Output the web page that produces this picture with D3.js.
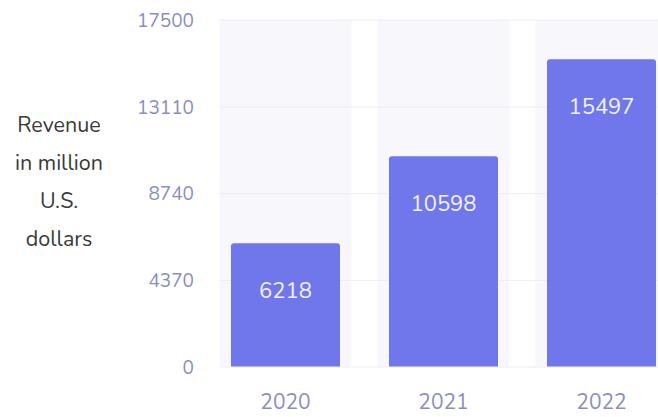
<!DOCTYPE html>
<html>
<head>
<meta charset="utf-8">
<script src="https://cdn.jsdelivr.net/npm/d3@7"></script>
<style>
  html, body { margin: 0; padding: 0; background: #ffffff; }
  svg { display: block; font-family: "Nunito", "Open Sans", "Noto Sans", sans-serif; }
</style>
</head>
<body>
<svg id="chart" width="658" height="417"></svg>
<script>
// Revenue by year
const years = ["2020", "2021", "2022"];
const revenue = [6218, 10598, 15497];
const tickValues = [0, 4370, 8740, 13110, 17500];
const tickLabels = ["0", "4370", "8740", "13110", "17500"];
const axisTitle = ["Revenue", "in million", "U.S.", "dollars"];

const svg = d3.select("#chart");

const x = d3.scaleBand()
  .domain(years)
  .range([206.5, 680.5])
  .paddingInner(0)
  .paddingOuter(0);

const y = d3.scaleLinear()
  .domain([0, 17500])
  .range([366.5, 19.5]);

const step = x.step();
const bgWidth = step * 0.835;
const barWidth = step * 0.69;
const center = d => x(d) + x.bandwidth() / 2;

// background columns
svg.append("g")
  .selectAll("rect")
  .data(years)
  .join("rect")
  .attr("x", d => center(d) - bgWidth / 2)
  .attr("y", y(17500))
  .attr("width", bgWidth)
  .attr("height", y(0) - y(17500))
  .attr("fill", "#f7f7fc");

// gridlines
svg.append("g")
  .selectAll("line")
  .data(tickValues)
  .join("line")
  .attr("x1", 219)
  .attr("x2", 658)
  .attr("y1", d => y(d) + 0.5)
  .attr("y2", d => y(d) + 0.5)
  .attr("stroke", "#ededf5")
  .attr("stroke-width", 1);

// y axis labels
const yAxis = d3.axisLeft(y)
  .tickValues(tickValues)
  .tickFormat((d, i) => tickLabels[i])
  .tickSize(0)
  .tickPadding(0);

const gy = svg.append("g")
  .attr("transform", "translate(194,0)")
  .call(yAxis);
gy.select(".domain").remove();
gy.selectAll("text")
  .attr("fill", "#8b8dc2")
  .attr("font-size", 19)
  .attr("dy", "0.35em")
  .style("font-family", "\"Nunito\", \"Open Sans\", \"Noto Sans\", sans-serif");

// bars with rounded top corners
function barPath(d, i) {
  const r = 3;
  const x0 = center(d) - barWidth / 2;
  const x1 = x0 + barWidth;
  const top = y(revenue[i]);
  const bottom = y(0);
  return `M${x0},${bottom}V${top + r}Q${x0},${top} ${x0 + r},${top}H${x1 - r}Q${x1},${top} ${x1},${top + r}V${bottom}Z`;
}

svg.append("g")
  .selectAll("path")
  .data(years)
  .join("path")
  .attr("d", (d, i) => barPath(d, i))
  .attr("fill", "#7077ea");

// value labels
svg.append("g")
  .selectAll("text")
  .data(years)
  .join("text")
  .attr("x", d => center(d))
  .attr("y", (d, i) => y(revenue[i]) + 47)
  .attr("dy", "0.35em")
  .attr("text-anchor", "middle")
  .attr("fill", "#f2f2ff")
  .attr("font-size", 22)
  .text((d, i) => revenue[i]);

// x axis labels
const xAxis = d3.axisBottom(x).tickSize(0).tickPadding(0);
const gx = svg.append("g")
  .attr("transform", "translate(0,402)")
  .call(xAxis);
gx.select(".domain").remove();
gx.selectAll("text")
  .attr("fill", "#8b8dc2")
  .attr("font-size", 21)
  .attr("dy", "0.35em")
  .style("font-family", "\"Nunito\", \"Open Sans\", \"Noto Sans\", sans-serif");

// axis title
svg.append("g")
  .selectAll("text")
  .data(axisTitle)
  .join("text")
  .attr("x", 59)
  .attr("y", (d, i) => 124 + i * 38)
  .attr("dy", "0.35em")
  .attr("text-anchor", "middle")
  .attr("fill", "#3a3a3a")
  .attr("font-size", 21.5)
  .text(d => d);
</script>
</body>
</html>
